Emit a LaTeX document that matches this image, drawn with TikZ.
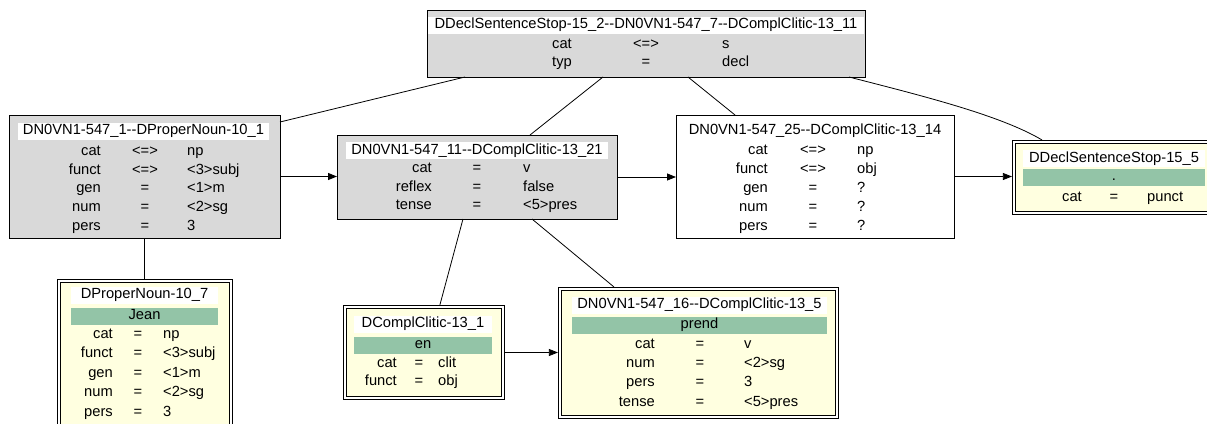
\documentclass[tikz,border=0pt]{standalone}
\usepackage{fontspec}
\setmainfont{Liberation Sans}[Ligatures=TeXOff]
\usetikzlibrary{arrows.meta,calc}
\definecolor{boxgray}{HTML}{D9D9D9}
\definecolor{lyellow}{HTML}{FFFFE0}
\definecolor{bandgreen}{HTML}{93C4A7}
\newcommand\ff{\fontsize{14.7pt}{17pt}\selectfont}
\newcommand\frow[8]{%
  \node[txt,anchor=east] (#1a) at (#3,#2) {#4};
  \node[txt] (#1o) at (#5,#2) {#6};
  \node[txt,anchor=west] (#1v) at (#7,#2) {#8};}
\begin{document}
\begin{tikzpicture}[x=1pt,y=-1pt,
  every node/.style={font=\ff},
  gbox/.style={draw=black, line width=0.9pt, fill=boxgray, inner sep=0pt, outer sep=0pt},
  wbox/.style={gbox, fill=white},
  dbox/.style={draw=black, line width=0.8pt, double=white, double distance=2.6pt, fill=lyellow, inner sep=0pt, outer sep=2.1pt},
  tband/.style={fill=white, inner sep=0pt, minimum height=17pt, text height=10.5pt, text depth=3pt},
  gband/.style={tband, fill=bandgreen},
  txt/.style={inner sep=0pt, text height=10.5pt, text depth=3pt},
  link/.style={draw=black, line width=0.8pt},
  arr/.style={link, -{Triangle[length=9pt,width=7pt]}}]
\useasboundingbox (0,0) rectangle (1207,423);
\clip (0,0) rectangle (1207,423);
\fill[white] (0,0) rectangle (1207,423);

% top node
\node[gbox, minimum width=438pt, minimum height=67pt] (T) at (646,43.5) {};
\node[tband, minimum width=436pt] (Tt) at (646,25) {DDeclSentenceStop-15\_2--DN0VN1-547\_7--DComplClitic-13\_11};
\frow{T1}{45}{572}{cat}{646}{<=>}{722}{s}
\frow{T2}{63}{572}{typ}{646}{=}{722}{decl}

% left node
\node[gbox, minimum width=271pt, minimum height=123pt] (L) at (144.5,176.5) {};
\node[tband, minimum width=251pt] (Lt) at (143.5,131) {DN0VN1-547\_1--DProperNoun-10\_1};
\frow{L1}{151.5}{101}{cat}{145}{<=>}{187}{np}
\frow{L2}{170.3}{101}{funct}{145}{<=>}{187}{<3>subj}
\frow{L3}{189.1}{101}{gen}{145}{=}{187}{<1>m}
\frow{L4}{207.9}{101}{num}{145}{=}{187}{<2>sg}
\frow{L5}{226.7}{101}{pers}{145}{=}{187}{3}

% middle node
\node[gbox, minimum width=280pt, minimum height=84pt] (M) at (477,177) {};
\node[tband, minimum width=262pt] (Mt) at (477,150.5) {DN0VN1-547\_11--DComplClitic-13\_21};
\frow{M1}{169}{432}{cat}{477}{=}{523}{v}
\frow{M2}{187.5}{432}{reflex}{477}{=}{523}{false}
\frow{M3}{206}{432}{tense}{477}{=}{523}{<5>pres}

% right node
\node[wbox, minimum width=278pt, minimum height=123pt] (R) at (815,176.5) {};
\node[tband, minimum width=250pt] (Rt) at (815,131) {DN0VN1-547\_25--DComplClitic-13\_14};
\frow{R1}{151}{768}{cat}{813}{<=>}{857}{np}
\frow{R2}{170}{768}{funct}{813}{<=>}{857}{obj}
\frow{R3}{189}{768}{gen}{813}{=}{857}{?}
\frow{R4}{208}{768}{num}{813}{=}{857}{?}
\frow{R5}{227}{768}{pers}{813}{=}{857}{?}

% far right node
\node[dbox, minimum width=200pt, minimum height=71pt] (F) at (1114,177.5) {};
\node[tband, minimum width=182pt] (Ft) at (1114,158.5) {DDeclSentenceStop-15\_5};
\node[gband, minimum width=182pt] (Fg) at (1114,177) {.};
\frow{F1}{198}{1082}{cat}{1114}{=}{1147}{punct}

% bottom-left node
\node[dbox, minimum width=172pt, minimum height=147pt] (B) at (145,354.5) {};
\node[tband, minimum width=147pt] (Bt) at (144.5,295) {DProperNoun-10\_7};
\node[gband, minimum width=147pt] (Bg) at (144.5,316) {Jean};
\frow{B1}{335}{113}{cat}{138}{=}{163}{np}
\frow{B2}{354}{113}{funct}{138}{=}{163}{<3>subj}
\frow{B3}{374}{113}{gen}{138}{=}{163}{<1>m}
\frow{B4}{393}{113}{num}{138}{=}{163}{<2>sg}
\frow{B5}{413}{113}{pers}{138}{=}{163}{3}

% en node
\node[dbox, minimum width=158pt, minimum height=91pt] (E) at (424,352.5) {};
\node[tband, minimum width=138pt] (Et) at (423,324) {DComplClitic-13\_1};
\node[gband, minimum width=138pt] (Eg) at (423,345) {en};
\frow{E1}{364}{397}{cat}{419}{=}{438}{clit}
\frow{E2}{382}{397}{funct}{419}{=}{438}{obj}

% prend node
\node[dbox, minimum width=277pt, minimum height=128pt] (P) at (698.5,353) {};
\node[tband, minimum width=255pt] (Pt) at (699.5,305) {DN0VN1-547\_16--DComplClitic-13\_5};
\node[gband, minimum width=255pt] (Pg) at (699.5,325) {prend};
\frow{P1}{345}{655}{cat}{700}{=}{744}{v}
\frow{P2}{364}{655}{num}{700}{=}{744}{<2>sg}
\frow{P3}{383}{655}{pers}{700}{=}{744}{3}
\frow{P4}{403}{655}{tense}{700}{=}{744}{<5>pres}

% undirected links
\draw[link] ($(T.south west)+(38,0)$) -- ($(L.north east)+(0,7)$);
\draw[link] ($(T.south west)+(176,0)$) -- ($(M.north west)+(193,0)$);
\draw[link] ($(T.south west)+(261,0)$) -- ($(R.north west)+(59,0)$);
\draw[link] ($(T.south east)+(-16,0)$) .. controls ($(T.south east)+(54,18)$) and ($(F.north west)+(-12,-25)$) .. ($(F.north west)+(30,0)$);
\draw[link] (L.south) -- (L.south |- B.north);
\draw[link] ($(M.south west)+(126,0)$) -- ($(E.north west)+(97,0)$);
\draw[link] ($(M.south west)+(195,0)$) -- ($(P.north west)+(56,0)$);

% arrows
\draw[arr] (L.east) -- (L.east -| M.west);
\draw[arr] (M.east) -- (M.east -| R.west);
\draw[arr] (R.east) -- (R.east -| F.west);
\draw[arr] (E.east) -- (E.east -| P.west);
\end{tikzpicture}
\end{document}
